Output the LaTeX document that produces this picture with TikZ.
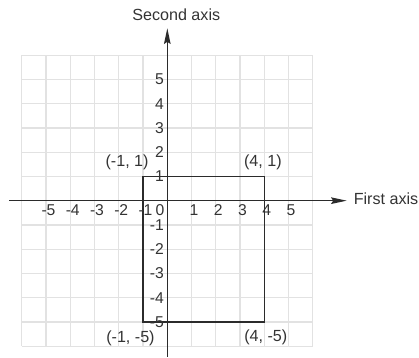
\documentclass[tikz,border=0pt]{standalone}
\usepackage{fontspec}
\setmainfont{Liberation Sans}
\usetikzlibrary{arrows.meta}
\definecolor{gridc}{HTML}{E2E2E2}
\definecolor{axc}{HTML}{2B2B2B}
\definecolor{txt}{HTML}{333333}
\begin{document}
\begin{tikzpicture}[x=17pt,y=17pt,
  gridline/.style={draw=gridc,line width=0.9pt},
  axis/.style={draw=axc,line width=0.9pt,-{Stealth[length=11pt,width=4.6pt,inset=1.5pt]}},
  box/.style={draw=axc,line width=0.9pt},
  lbl/.style={text=txt,font=\fontsize{11.3}{13}\selectfont,inner sep=1pt},
  tick/.style={text=txt,font=\fontsize{11}{13}\selectfont,inner sep=0.5pt}]
\useasboundingbox (-6.9,-6.487) rectangle (10.38,8.276);
\draw[gridline,step=17pt] (-6,-6) grid (6,6);
\coordinate (xs) at (-6.52,0);
\coordinate (xe) at (7.4,0);
\coordinate (ys) at (0,-6.43);
\coordinate (ye) at (0,7.11);
\draw[axis] (xs) -- (xe);
\draw[axis] (ys) -- (ye);
\node[lbl, anchor=west] (xl) at (7.62,0.1) {First axis};
\node[lbl] (yl) at (0.37,7.66) {Second axis};
\coordinate (a) at (-1,-5);
\coordinate (c) at (4,1);
\draw[box] (a) rectangle (c);
\foreach \i in {-5,-4,-3,-2,-1,1,2,3,4,5} {
  \node[tick] (tx\i) at (\i+0.1,-0.38) {\i};
  \node[tick,anchor=east] (ty\i) at (-0.1,\i) {\i};
}
\node[tick] (t0) at (-0.3,-0.38) {0};
\node[lbl] (p1) at (-1.66,1.58) {(-1, 1)};
\node[lbl] (p2) at (3.94,1.58) {(4, 1)};
\node[lbl] (p3) at (-1.52,-5.67) {(-1, -5)};
\node[lbl] (p4) at (4.06,-5.63) {(4, -5)};
\end{tikzpicture}
\end{document}
